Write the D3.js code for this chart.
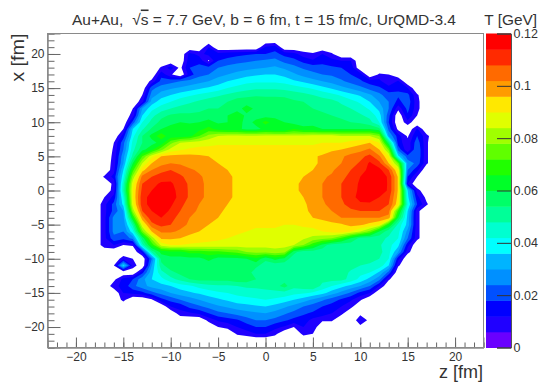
<!DOCTYPE html>
<html>
<head>
<meta charset="utf-8">
<script src="https://cdn.jsdelivr.net/npm/d3@7"></script>
<style>
  html, body { margin: 0; padding: 0; background: #fff; }
  text { font-family: "Liberation Sans", Arial, sans-serif; fill: #333; }
</style>
</head>
<body>
<div id="chart"></div>
<script>
// temperature in MeV, 0 = no data
// columns are z = -17 .. 17, rows are x = 21 .. -21
const zFirst = -17;
const xFirst = 21;
const tempRows = [
  [0,0,0,0,0,0,0,0,0,0,0,12,0,0,0,0,0,13,15,0,0,0,0,0,0,0,0,0,0,0,0,0,0,0,0],
  [0,0,0,0,0,0,0,0,0,14,10,14,14,15,16,17,18,18,20,16,14,9,7,12,7,0,0,0,0,0,0,0,0,0,0],
  [0,0,0,0,0,0,0,0,0,16,16,5,18,20,22,23,24,25,26,22,20,16,13,16,14,12,12,0,0,0,0,0,0,0,0],
  [0,0,0,0,0,0,7,15,4,18,20,20,24,26,27,28,29,30,31,29,26,23,21,20,19,18,16,0,0,0,0,0,0,0,0],
  [0,0,0,0,0,0,16,7,0,15,22,24,28,30,32,34,35,36,36,34,31,28,26,24,23,21,18,15,0,7,6,0,0,0,0],
  [0,0,0,0,0,8,20,22,24,26,28,30,33,36,38,40,41,41,41,40,37,35,32,30,28,25,22,19,15,14,6,13,0,0,0],
  [0,0,0,0,0,22,27,29,31,33,35,37,39,42,44,46,47,47,47,46,45,43,41,38,35,32,29,26,22,19,15,17,12,0,0],
  [0,0,0,0,6,27,33,36,39,41,43,45,47,49,51,52,53,53,53,53,51,50,48,46,44,41,38,35,31,26,20,19,20,7,0],
  [0,0,0,0,10,33,39,42,45,47,49,51,52,54,57,58,58,57,57,56,55,54,53,51,50,47,44,41,36,30,24,16,22,8,0],
  [0,0,0,6,30,40,45,48,50,52,53,54,54,55,58,62,59,56,56,56,55,54,54,53,52,50,48,45,41,34,24,8,20,8,0],
  [0,0,0,9,36,46,52,55,56,55,55,57,58,60,63,59,57,57,58,58,56,55,55,55,54,53,51,49,46,39,20,0,17,6,0],
  [0,0,0,20,42,50,56,58,60,59,60,62,59,60,64,57,62,68,63,60,58,57,58,58,57,55,54,53,50,42,18,0,10,0,0],
  [0,0,6,36,47,55,60,63,66,64,64,68,64,62,62,58,58,62,60,60,66,62,62,60,60,60,60,60,60,56,22,4,0,13,0],
  [0,0,15,40,54,62,70,62,62,64,72,80,84,85,85,85,85,85,85,85,85,85,86,86,86,84,84,84,84,78,30,15,5,18,8],
  [0,6,22,44,54,58,62,76,84,86,87,88,89,89,89,89,89,89,89,89,89,89,89,90,90,90,92,94,96,90,56,15,8,22,7],
  [0,7,24,46,58,64,76,86,89,91,92,92,92,92,92,92,92,92,92,92,92,92,92,93,95,96,98,100,103,96,76,22,7,24,7],
  [0,8,28,50,72,88,96,98,98,98,97,96,94,93,93,92,92,92,92,92,92,93,95,97,99,101,104,106,110,103,90,38,20,24,7],
  [0,9,30,60,84,96,100,102,101,99,98,97,96,95,93,92,92,92,92,92,93,93,95,97,99,102,105,109,115,110,96,76,28,22,7],
  [0,10,36,70,94,102,106,108,106,103,101,99,98,96,94,92,92,92,92,92,93,94,96,99,101,105,108,111,116,116,108,90,24,14,0],
  [7,14,40,80,104,108,111,112,109,106,103,100,99,97,95,93,92,92,92,92,94,96,99,101,103,106,110,114,119,118,113,95,18,6,0],
  [0,8,46,88,108,112,115,115,111,107,103,101,99,97,95,93,92,92,92,93,95,97,100,102,105,108,111,115,120,119,113,95,12,0,0],
  [0,9,48,90,110,114,117,116,112,107,103,101,99,97,95,93,92,92,92,93,95,97,99,102,105,108,112,115,119,118,113,95,36,9,0],
  [6,14,42,90,112,116,119,117,112,107,103,101,99,97,95,93,92,92,92,93,95,96,99,102,105,108,112,116,117,114,110,94,38,14,4],
  [10,20,38,88,112,116,119,115,110,105,102,100,98,96,95,93,92,92,92,93,94,95,98,101,104,107,110,113,113,112,108,92,42,18,7],
  [10,20,30,80,108,114,117,113,108,104,101,99,97,95,94,93,93,93,93,93,93,95,97,100,102,105,107,108,108,108,104,70,36,8,0],
  [10,26,28,66,100,112,114,110,106,102,100,98,96,94,93,92,92,92,92,92,92,92,96,98,100,102,102,102,102,102,100,60,34,8,0],
  [10,26,26,50,88,106,110,108,104,101,98,96,95,93,92,91,91,91,91,90,90,91,92,92,94,95,98,97,94,90,66,46,34,8,0],
  [10,26,24,40,76,96,103,103,101,98,96,94,93,92,91,90,89,89,89,89,88,88,88,90,92,94,90,84,76,60,50,44,28,8,0],
  [10,22,20,26,56,80,97,97,96,94,92,92,91,90,89,89,88,88,87,87,86,85,82,80,78,70,60,52,50,50,47,42,24,8,0],
  [10,12,6,7,46,68,86,90,90,89,89,88,88,88,87,87,86,86,86,86,84,78,68,58,50,49,50,50,50,49,44,38,14,0,0],
  [0,0,0,0,14,50,62,64,64,68,68,70,70,72,74,78,80,80,82,80,56,50,51,50,50,50,50,50,50,50,44,30,8,0,0],
  [0,0,10,6,0,24,56,58,58,58,58,62,58,58,58,60,64,56,62,58,50,50,50,50,50,50,50,50,50,48,42,14,0,0,0],
  [0,6,38,10,0,30,52,58,60,58,56,56,56,56,57,57,56,50,50,50,50,50,50,50,50,50,50,48,47,46,36,7,0,0,0],
  [0,0,0,0,16,34,46,52,56,58,58,56,54,54,56,58,50,50,50,50,50,50,50,50,50,51,47,44,42,35,22,0,0,0,0],
  [0,4,14,18,28,36,40,46,50,54,56,56,56,56,58,58,54,52,50,52,50,52,54,50,50,50,46,40,34,26,7,0,0,0,0],
  [0,10,14,22,28,32,34,36,39,41,44,46,47,47,48,49,49,50,52,56,50,52,54,46,42,38,34,30,24,12,0,0,0,0,0],
  [0,0,12,14,16,22,26,30,33,35,37,39,41,42,44,45,46,46,46,46,44,43,41,38,33,28,23,16,12,0,0,0,0,0,0],
  [0,0,8,0,0,5,16,20,24,27,30,33,35,37,39,40,41,42,41,39,36,33,29,25,21,17,13,7,0,0,0,0,0,0,0],
  [0,0,0,0,0,0,0,12,14,20,23,26,29,31,33,34,35,36,34,31,28,24,21,18,15,12,8,0,0,0,0,0,0,0,0],
  [0,0,0,0,0,0,0,0,10,11,13,18,22,24,26,28,29,30,28,25,22,19,17,15,12,8,0,4,3,0,0,0,0,0,0],
  [0,0,0,0,0,0,0,0,0,0,0,8,13,15,17,21,24,24,22,19,16,15,10,7,7,0,0,11,4,0,0,0,0,0,0],
  [0,0,0,0,0,0,0,0,0,0,0,0,6,8,12,15,18,18,14,11,6,12,10,0,0,0,0,4,0,0,0,0,0,0,0],
  [0,0,0,0,0,0,0,0,0,0,0,0,0,0,7,9,12,12,8,0,0,8,6,0,0,0,0,0,0,0,0,0,0,0,0]
];

// colour bands, 0.006 GeV wide each, from the palette on the right
const bandColors = [
  "#6a00ff", "#2000ff", "#0000ff", "#0050ff", "#0090ff", "#00b4ff", "#00ffff",
  "#00ffd0", "#00ff98", "#00ff68", "#00ff28", "#20ff00", "#60ff00", "#a0ff00",
  "#e0ff00", "#ffe800", "#ff9c00", "#ff6a00", "#ff2a00", "#ff0000"
];
const bandWidth = 6;
const zMajor = [-20, -15, -10, -5, 0, 5, 10, 15, 20];
const xMajor = [-20, -15, -10, -5, 0, 5, 10, 15, 20];
const barTicks = [0, 0.02, 0.04, 0.06, 0.08, 0.1, 0.12];

const width = 550, height = 390;
const frame = {left: 47.5, right: 483.5, top: 33.5, bottom: 347.5};
const bar = {left: 486, right: 511};

const svg = d3.select("#chart").append("svg")
  .attr("width", width)
  .attr("height", height)
  .style("display", "block");

const zScale = d3.scaleLinear().domain([-23, 23]).range([frame.left, frame.right]);
const xScale = d3.scaleLinear().domain([-23, 23]).range([frame.bottom, frame.top]);
const barScale = d3.scaleLinear().domain([0, 0.12]).range([frame.bottom, frame.top]);

function drawContours() {
  // one empty cell around the grid so the outer edge closes on zero
  const nCols = tempRows[0].length + 2;
  const nRows = tempRows.length + 2;
  const values = new Array(nCols * nRows).fill(0);
  tempRows.forEach(function (row, j) {
    row.forEach(function (v, i) {
      values[(j + 1) * nCols + i + 1] = v;
    });
  });

  const thresholds = bandColors.map(function (c, i) { return i * bandWidth; }).slice(1);
  const contours = d3.contours().size([nCols, nRows]).thresholds(thresholds)(values);

  // contour units have the cell centres at +0.5
  const projection = d3.geoTransform({
    point: function (gx, gy) {
      this.stream.point(
        zScale(zFirst - 1 + gx - 0.5),
        xScale(xFirst + 1 - (gy - 0.5))
      );
    }
  });
  const path = d3.geoPath(projection);

  svg.append("g")
    .selectAll("path")
    .data(contours)
    .enter()
    .append("path")
      .attr("d", path)
      .attr("fill", function (d) { return bandColors[d.value / bandWidth]; });
}

function drawAxes() {
  const minor = d3.range(-23, 24);
  const fmt = d3.format("d");

  svg.append("g")
    .attr("transform", "translate(0," + frame.bottom + ")")
    .call(d3.axisBottom(zScale).tickValues(minor).tickSize(-5).tickFormat(""));
  svg.append("g")
    .attr("transform", "translate(0," + frame.bottom + ")")
    .call(d3.axisBottom(zScale).tickValues(zMajor).tickSize(-10).tickPadding(4.5).tickFormat(fmt));

  svg.append("g")
    .attr("transform", "translate(" + frame.left + ",0)")
    .call(d3.axisLeft(xScale).tickValues(minor).tickSize(-7).tickFormat(""));
  svg.append("g")
    .attr("transform", "translate(" + frame.left + ",0)")
    .call(d3.axisLeft(xScale).tickValues(xMajor).tickSize(-13).tickPadding(3).tickFormat(fmt));

  // frame on top of everything
  svg.append("rect")
    .attr("x", frame.left)
    .attr("y", frame.top)
    .attr("width", frame.right - frame.left)
    .attr("height", frame.bottom - frame.top)
    .attr("fill", "none")
    .attr("stroke", "#8a8a8a");

  svg.selectAll(".tick line").attr("stroke", "#666");
  svg.selectAll(".domain").attr("stroke", "#8a8a8a");
  svg.selectAll(".tick text").attr("font-size", 12).style("fill", "#333");
}

function drawPalette() {
  const bands = svg.append("g");
  bandColors.forEach(function (c, i) {
    bands.append("rect")
      .attr("x", bar.left)
      .attr("width", bar.right - bar.left)
      .attr("y", barScale((i + 1) * bandWidth / 1000))
      .attr("height", barScale(i * bandWidth / 1000) - barScale((i + 1) * bandWidth / 1000) + 0.5)
      .attr("fill", c);
  });

  svg.append("g")
    .attr("transform", "translate(" + bar.right + ",0)")
    .call(d3.axisRight(barScale).tickValues(barTicks).tickSize(-14).tickPadding(2.5).tickFormat(function (d) { return d; }))
    .call(function (g) {
      g.selectAll(".tick line").attr("stroke", "#333");
      g.select(".domain").attr("stroke", "#555");
      g.selectAll(".tick text").attr("font-size", 12.5).style("fill", "#333");
    });
}

function drawLabels() {
  const title = svg.append("text")
    .attr("x", 72)
    .attr("y", 24.5)
    .attr("font-size", 15.5);
  title.append("tspan").text("Au+Au,");
  title.append("tspan").text("\u221A").attr("dx", 9);
  title.append("tspan").text("s").style("text-decoration", "overline");
  title.append("tspan").text(" = 7.7 GeV, b = 6 fm, t = 15 fm/c, UrQMD-3.4");

  svg.append("text")
    .attr("x", 537)
    .attr("y", 25)
    .attr("text-anchor", "end")
    .attr("font-size", 15.4)
    .text("T [GeV]");

  svg.append("text")
    .attr("x", 483)
    .attr("y", 378)
    .attr("text-anchor", "end")
    .attr("font-size", 18)
    .text("z [fm]");

  svg.append("text")
    .attr("transform", "translate(24,33.5) rotate(-90) scale(1.1,1)")
    .attr("text-anchor", "end")
    .attr("font-size", 18)
    .text("x [fm]");
}

drawContours();
drawAxes();
drawPalette();
drawLabels();
</script>
</body>
</html>
